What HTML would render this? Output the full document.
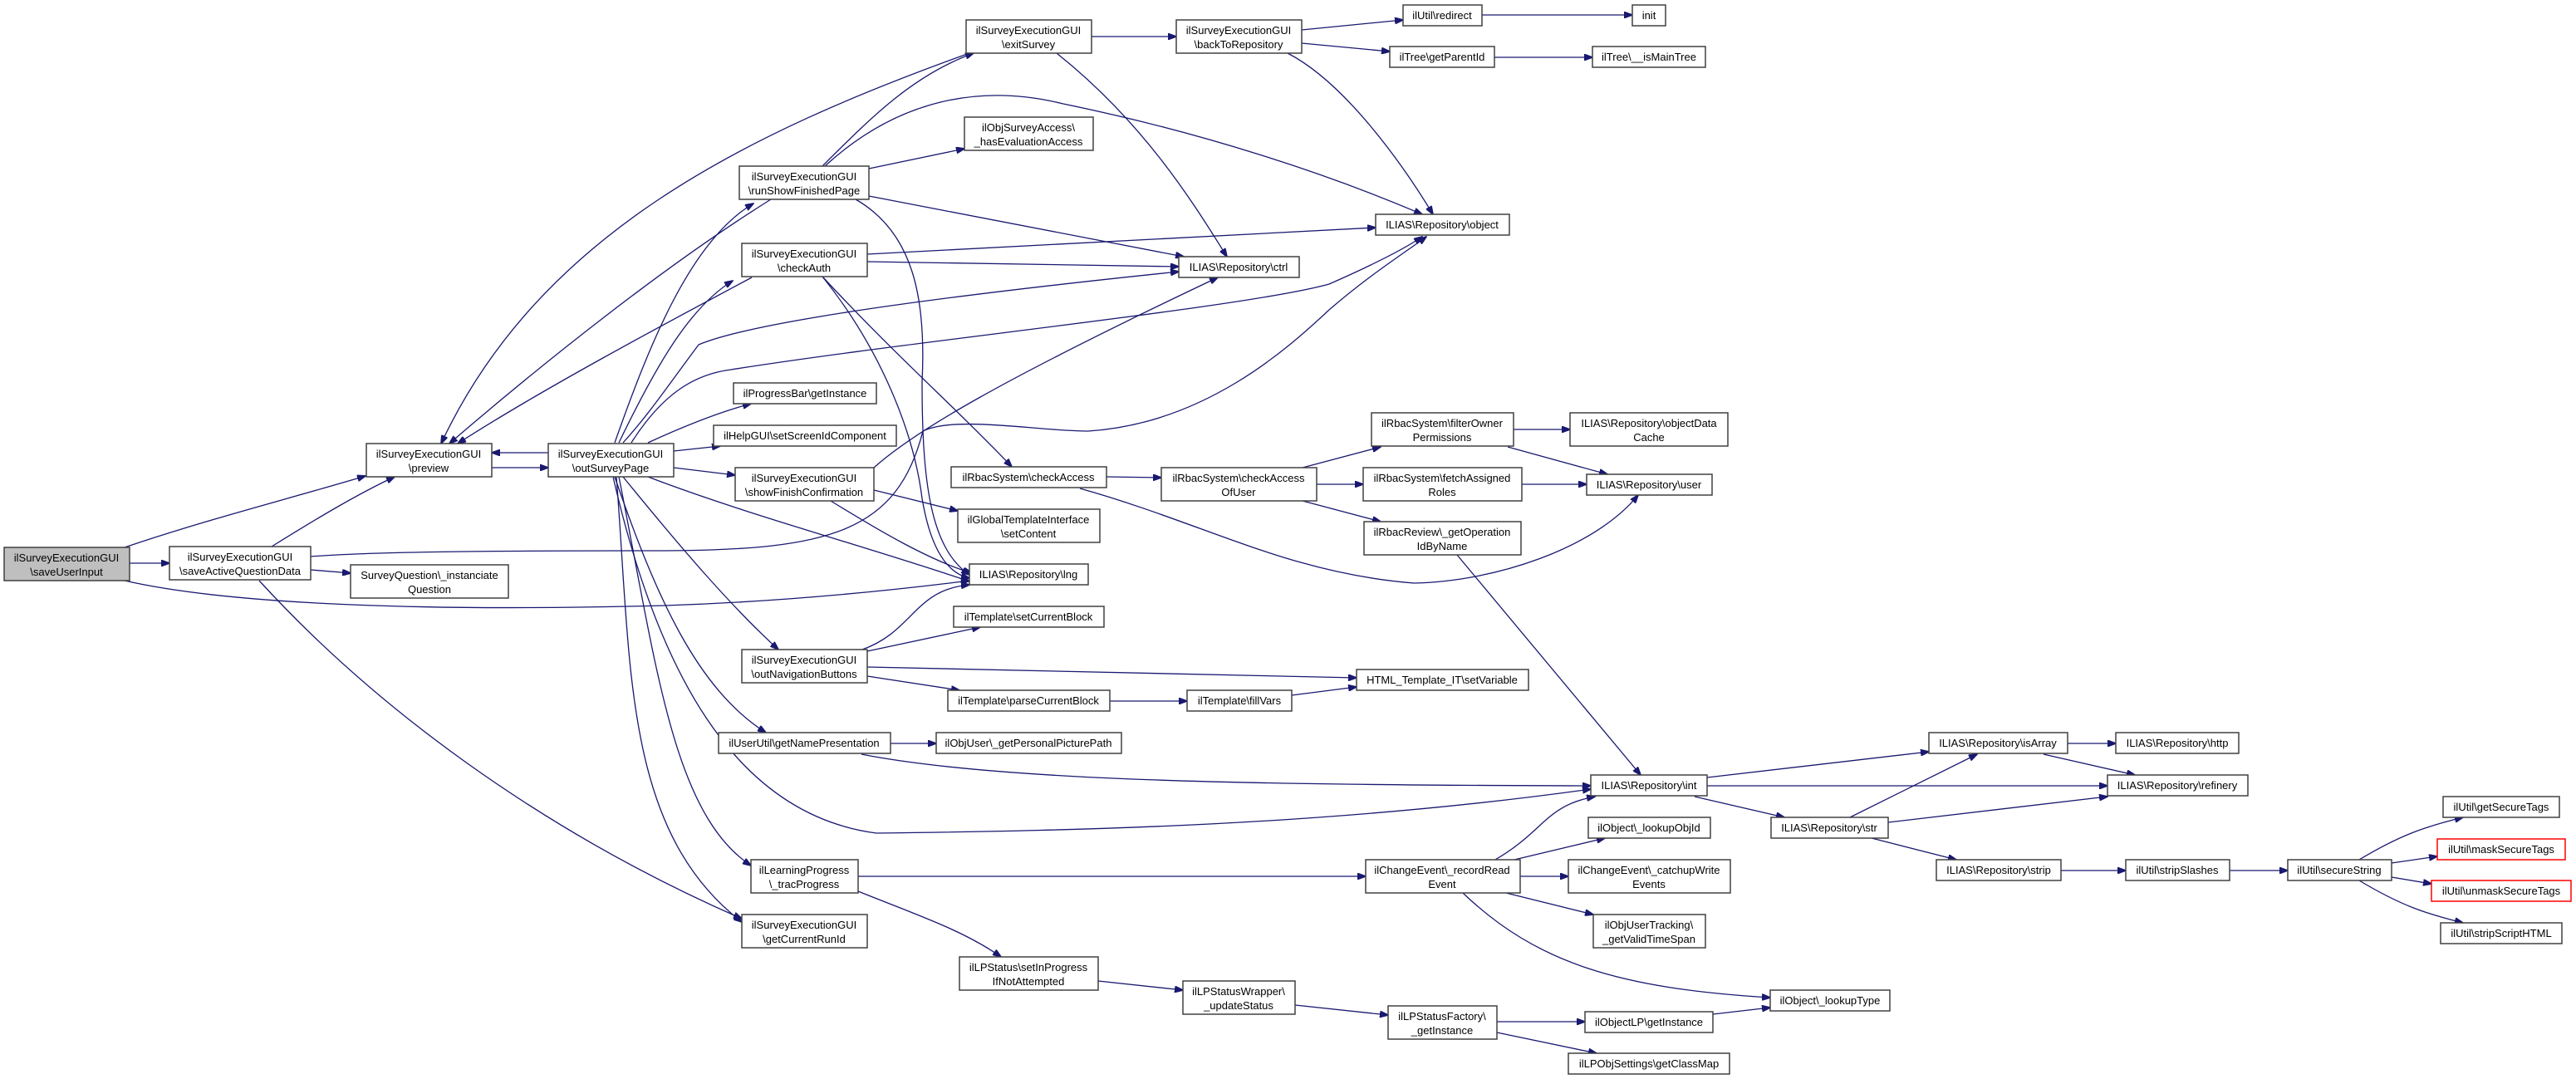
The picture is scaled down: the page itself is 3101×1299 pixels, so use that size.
<!DOCTYPE html>
<html><head><meta charset="utf-8"><style>
html,body{margin:0;padding:0;background:#fff;}
svg{display:block;}
text{font-family:"Liberation Sans",Arial,sans-serif;font-size:13px;fill:#000;text-anchor:middle;}
.n{fill:#fff;stroke:#404040;stroke-width:1.5;}
.r{fill:#fff;stroke:#ff0000;stroke-width:1.5;}
.g{fill:#bfbfbf;stroke:#404040;stroke-width:1.5;}
.e{fill:none;stroke:#191970;stroke-width:1.3;marker-end:url(#a);}
.p{fill:none;stroke:#191970;stroke-width:1.3;}
</style></head><body>
<svg width="3101" height="1299" viewBox="0 0 3101 1299" xmlns="http://www.w3.org/2000/svg">
<defs><marker id="a" markerWidth="11" markerHeight="8" refX="10" refY="4" orient="auto" markerUnits="userSpaceOnUse"><path d="M0,0 L11,4 L0,8 z" fill="#191970" stroke="#191970"/></marker></defs>

<!-- edges -->
<path class="e" d="M150,659 C250,625 350,600 440,573"/>
<path class="e" d="M156,678 L204,678"/>
<path class="e" d="M150,699 C250,722 450,738 800,729 C950,724 1080,710 1167,699"/>
<path class="e" d="M327,658 C380,625 430,595 475,574"/>
<path class="p" d="M374,670 C450,664 600,663 800,663 C1000,662 1080,640 1111,519 C1150,500 1250,519 1310,519 C1450,510 1550,420 1600,373"/>
<path class="e" d="M1600,373 C1650,330 1690,305 1717,285"/>
<path class="e" d="M374,686 L422,690"/>
<path class="e" d="M312,699 C450,850 650,1000 893,1106"/>
<path class="e" d="M592,563 L660,563"/>
<path class="e" d="M660,545 L592,545"/>
<path class="e" d="M1167,64 C900,160 650,280 531,534"/>
<path class="e" d="M928,240 C800,320 650,440 541,534"/>
<path class="e" d="M905,334 C800,390 650,470 551,534"/>
<path class="e" d="M740,533 C780,420 830,290 907,245"/>
<path class="e" d="M745,533 C790,440 830,370 882,338"/>
<path class="e" d="M990,200 C1050,140 1100,90 1172,64"/>
<path class="e" d="M1314,44 L1416,44"/>
<path class="e" d="M1272,64 C1380,150 1440,250 1477,309"/>
<path class="e" d="M1567,36 L1689,24"/>
<path class="e" d="M1567,52 L1673,62"/>
<path class="e" d="M1550,64 C1620,100 1690,200 1725,258"/>
<path class="e" d="M1784,18 L1965,18"/>
<path class="e" d="M1799,69 L1917,69"/>
<path class="e" d="M1046,203 L1161,179"/>
<path class="e" d="M1046,236 L1425,309"/>
<path class="e" d="M1030,240 C1100,280 1115,360 1110,460 C1110,580 1120,660 1167,692"/>
<path class="e" d="M993,200 C1080,120 1180,100 1280,125 C1450,160 1600,210 1712,258"/>
<path class="e" d="M1044,306 L1656,274"/>
<path class="e" d="M1044,315 L1419,321"/>
<path class="e" d="M990,333 C1080,430 1160,500 1218,562"/>
<path class="e" d="M990,333 C1060,420 1100,520 1110,600 C1120,660 1140,690 1167,696"/>
<path class="e" d="M750,533 C780,500 800,470 841,415 C900,390 1100,360 1419,327"/>
<path class="e" d="M760,533 C800,470 840,450 880,445 C1100,410 1500,370 1600,342 C1650,320 1690,300 1712,285"/>
<path class="e" d="M780,533 C830,510 870,495 904,486"/>
<path class="e" d="M811,543 L867,537"/>
<path class="e" d="M811,563 L885,572"/>
<path class="e" d="M780,574 C900,620 1050,660 1167,700"/>
<path class="e" d="M750,574 C820,660 880,730 937,782"/>
<path class="e" d="M740,574 C790,720 840,830 922,882"/>
<path class="e" d="M738,574 C790,800 880,980 1055,1003 C1300,1000 1600,994 1915,950"/>
<path class="e" d="M745,574 C790,800 810,980 904,1042"/>
<path class="e" d="M742,574 C760,800 750,1000 893,1110"/>
<path class="e" d="M1052,563 C1100,520 1200,460 1466,334"/>
<path class="e" d="M1052,590 L1153,615"/>
<path class="e" d="M1000,603 C1060,640 1120,675 1170,690"/>
<path class="e" d="M1332,574 L1398,575"/>
<path class="e" d="M1300,588 C1450,630 1550,690 1702,702 C1800,700 1920,660 1972,596"/>
<path class="e" d="M1568,563 L1662,538"/>
<path class="e" d="M1585,583 L1641,583"/>
<path class="e" d="M1568,603 L1662,628"/>
<path class="e" d="M1822,517 L1890,517"/>
<path class="e" d="M1815,538 L1935,571"/>
<path class="e" d="M1832,583 L1910,583"/>
<path class="e" d="M1754,668 L1975,933"/>
<path class="e" d="M1038,782 C1100,760 1100,710 1167,704"/>
<path class="e" d="M1044,784 L1180,755"/>
<path class="e" d="M1044,803 L1633,816"/>
<path class="e" d="M1044,814 L1155,831"/>
<path class="e" d="M1336,844 L1429,844"/>
<path class="e" d="M1555,837 L1633,827"/>
<path class="e" d="M1072,895 L1127,895"/>
<path class="e" d="M1037,908 C1200,940 1500,945 1915,946"/>
<path class="e" d="M1033,1055 L1644,1055"/>
<path class="e" d="M1033,1073 C1100,1100 1160,1120 1205,1152"/>
<path class="e" d="M1322,1181 L1424,1192"/>
<path class="e" d="M1559,1210 L1671,1222"/>
<path class="e" d="M1800,1035 C1860,1000 1860,970 1920,959"/>
<path class="e" d="M1823,1035 L1932,1009"/>
<path class="e" d="M1830,1055 L1888,1055"/>
<path class="e" d="M1813,1075 L1918,1101"/>
<path class="e" d="M1761,1075 C1850,1160 1950,1190 2131,1201"/>
<path class="e" d="M1802,1230 L1908,1230"/>
<path class="e" d="M1802,1243 L1922,1268"/>
<path class="e" d="M2062,1221 L2131,1213"/>
<path class="e" d="M2055,936 L2322,905"/>
<path class="e" d="M2055,946 L2537,946"/>
<path class="e" d="M2040,959 L2148,984"/>
<path class="e" d="M2227,984 L2380,908"/>
<path class="e" d="M2273,990 L2537,959"/>
<path class="e" d="M2253,1009 L2355,1035"/>
<path class="e" d="M2489,895 L2547,895"/>
<path class="e" d="M2460,908 L2570,933"/>
<path class="e" d="M2481,1048 L2559,1048"/>
<path class="e" d="M2684,1048 L2754,1048"/>
<path class="e" d="M2840,1035 C2890,1005 2920,995 2965,984"/>
<path class="e" d="M2879,1039 L2934,1031"/>
<path class="e" d="M2879,1056 L2927,1064"/>
<path class="e" d="M2840,1060 C2890,1090 2920,1100 2965,1111"/>

<!-- nodes -->
<rect class="g" x="5" y="659" width="151" height="40"/><text x="80" y="676">ilSurveyExecutionGUI</text><text x="80" y="693">\saveUserInput</text>
<rect class="n" x="204" y="658" width="170" height="40"/><text x="289" y="675">ilSurveyExecutionGUI</text><text x="289" y="692">\saveActiveQuestionData</text>
<rect class="n" x="422" y="680" width="190" height="40"/><text x="517" y="697">SurveyQuestion\_instanciate</text><text x="517" y="714">Question</text>
<rect class="n" x="441" y="534" width="151" height="40"/><text x="516" y="551">ilSurveyExecutionGUI</text><text x="516" y="568">\preview</text>
<rect class="n" x="660" y="534" width="151" height="40"/><text x="735" y="551">ilSurveyExecutionGUI</text><text x="735" y="568">\outSurveyPage</text>
<rect class="n" x="1163" y="24" width="151" height="40"/><text x="1238" y="41">ilSurveyExecutionGUI</text><text x="1238" y="58">\exitSurvey</text>
<rect class="n" x="1416" y="24" width="151" height="40"/><text x="1491" y="41">ilSurveyExecutionGUI</text><text x="1491" y="58">\backToRepository</text>
<rect class="n" x="1161" y="141" width="155" height="40"/><text x="1238" y="158">ilObjSurveyAccess\</text><text x="1238" y="175">_hasEvaluationAccess</text>
<rect class="n" x="890" y="200" width="156" height="40"/><text x="968" y="217">ilSurveyExecutionGUI</text><text x="968" y="234">\runShowFinishedPage</text>
<rect class="n" x="893" y="293" width="151" height="40"/><text x="968" y="310">ilSurveyExecutionGUI</text><text x="968" y="327">\checkAuth</text>
<rect class="n" x="1419" y="309" width="145" height="25"/><text x="1491" y="326">ILIAS\Repository\ctrl</text>
<rect class="n" x="883" y="461" width="172" height="25"/><text x="969" y="478">ilProgressBar\getInstance</text>
<rect class="n" x="859" y="512" width="220" height="25"/><text x="969" y="529">ilHelpGUI\setScreenIdComponent</text>
<rect class="n" x="885" y="563" width="167" height="40"/><text x="968" y="580">ilSurveyExecutionGUI</text><text x="968" y="597">\showFinishConfirmation</text>
<rect class="n" x="1145" y="562" width="187" height="25"/><text x="1238" y="579">ilRbacSystem\checkAccess</text>
<rect class="n" x="1398" y="563" width="187" height="40"/><text x="1491" y="580">ilRbacSystem\checkAccess</text><text x="1491" y="597">OfUser</text>
<rect class="n" x="1153" y="613" width="171" height="40"/><text x="1238" y="630">ilGlobalTemplateInterface</text><text x="1238" y="647">\setContent</text>
<rect class="n" x="1167" y="679" width="143" height="25"/><text x="1238" y="696">ILIAS\Repository\lng</text>
<rect class="n" x="1148" y="730" width="181" height="25"/><text x="1238" y="747">ilTemplate\setCurrentBlock</text>
<rect class="n" x="893" y="782" width="151" height="40"/><text x="968" y="799">ilSurveyExecutionGUI</text><text x="968" y="816">\outNavigationButtons</text>
<rect class="n" x="1141" y="831" width="195" height="25"/><text x="1238" y="848">ilTemplate\parseCurrentBlock</text>
<rect class="n" x="1429" y="831" width="126" height="25"/><text x="1492" y="848">ilTemplate\fillVars</text>
<rect class="n" x="865" y="882" width="207" height="25"/><text x="968" y="899">ilUserUtil\getNamePresentation</text>
<rect class="n" x="1127" y="882" width="223" height="25"/><text x="1238" y="899">ilObjUser\_getPersonalPicturePath</text>
<rect class="n" x="904" y="1035" width="129" height="40"/><text x="968" y="1052">ilLearningProgress</text><text x="968" y="1069">\_tracProgress</text>
<rect class="n" x="893" y="1101" width="151" height="40"/><text x="968" y="1118">ilSurveyExecutionGUI</text><text x="968" y="1135">\getCurrentRunId</text>
<rect class="n" x="1155" y="1152" width="167" height="40"/><text x="1238" y="1169">ilLPStatus\setInProgress</text><text x="1238" y="1186">IfNotAttempted</text>
<rect class="n" x="1424" y="1181" width="135" height="40"/><text x="1491" y="1198">ilLPStatusWrapper\</text><text x="1491" y="1215">_updateStatus</text>
<rect class="n" x="1689" y="6" width="95" height="25"/><text x="1736" y="23">ilUtil\redirect</text>
<rect class="n" x="1965" y="6" width="40" height="25"/><text x="1985" y="23">init</text>
<rect class="n" x="1673" y="56" width="126" height="25"/><text x="1736" y="73">ilTree\getParentId</text>
<rect class="n" x="1917" y="56" width="136" height="25"/><text x="1985" y="73">ilTree\__isMainTree</text>
<rect class="n" x="1656" y="258" width="161" height="25"/><text x="1736" y="275">ILIAS\Repository\object</text>
<rect class="n" x="1651" y="497" width="171" height="40"/><text x="1736" y="514">ilRbacSystem\filterOwner</text><text x="1736" y="531">Permissions</text>
<rect class="n" x="1890" y="497" width="190" height="40"/><text x="1985" y="514">ILIAS\Repository\objectData</text><text x="1985" y="531">Cache</text>
<rect class="n" x="1641" y="563" width="191" height="40"/><text x="1736" y="580">ilRbacSystem\fetchAssigned</text><text x="1736" y="597">Roles</text>
<rect class="n" x="1910" y="571" width="151" height="25"/><text x="1985" y="588">ILIAS\Repository\user</text>
<rect class="n" x="1642" y="628" width="189" height="40"/><text x="1736" y="645">ilRbacReview\_getOperation</text><text x="1736" y="662">IdByName</text>
<rect class="n" x="1633" y="806" width="207" height="25"/><text x="1736" y="823">HTML_Template_IT\setVariable</text>
<rect class="n" x="1915" y="933" width="140" height="25"/><text x="1985" y="950">ILIAS\Repository\int</text>
<rect class="n" x="1912" y="984" width="147" height="25"/><text x="1985" y="1001">ilObject\_lookupObjId</text>
<rect class="n" x="2132" y="984" width="141" height="25"/><text x="2202" y="1001">ILIAS\Repository\str</text>
<rect class="n" x="1644" y="1035" width="186" height="40"/><text x="1736" y="1052">ilChangeEvent\_recordRead</text><text x="1736" y="1069">Event</text>
<rect class="n" x="1888" y="1035" width="195" height="40"/><text x="1985" y="1052">ilChangeEvent\_catchupWrite</text><text x="1985" y="1069">Events</text>
<rect class="n" x="1918" y="1101" width="135" height="40"/><text x="1985" y="1118">ilObjUserTracking\</text><text x="1985" y="1135">_getValidTimeSpan</text>
<rect class="n" x="2131" y="1192" width="144" height="25"/><text x="2203" y="1209">ilObject\_lookupType</text>
<rect class="n" x="1671" y="1211" width="131" height="40"/><text x="1736" y="1228">ilLPStatusFactory\</text><text x="1736" y="1245">_getInstance</text>
<rect class="n" x="1908" y="1218" width="154" height="25"/><text x="1985" y="1235">ilObjectLP\getInstance</text>
<rect class="n" x="1888" y="1268" width="194" height="25"/><text x="1985" y="1285">ilLPObjSettings\getClassMap</text>
<rect class="n" x="2322" y="882" width="167" height="25"/><text x="2405" y="899">ILIAS\Repository\isArray</text>
<rect class="n" x="2547" y="882" width="148" height="25"/><text x="2621" y="899">ILIAS\Repository\http</text>
<rect class="n" x="2537" y="933" width="169" height="25"/><text x="2621" y="950">ILIAS\Repository\refinery</text>
<rect class="n" x="2331" y="1035" width="150" height="25"/><text x="2406" y="1052">ILIAS\Repository\strip</text>
<rect class="n" x="2559" y="1035" width="125" height="25"/><text x="2621" y="1052">ilUtil\stripSlashes</text>
<rect class="n" x="2754" y="1035" width="125" height="25"/><text x="2816" y="1052">ilUtil\secureString</text>
<rect class="n" x="2941" y="959" width="140" height="25"/><text x="3011" y="976">ilUtil\getSecureTags</text>
<rect class="r" x="2934" y="1010" width="154" height="25"/><text x="3011" y="1027">ilUtil\maskSecureTags</text>
<rect class="r" x="2927" y="1060" width="168" height="25"/><text x="3011" y="1077">ilUtil\unmaskSecureTags</text>
<rect class="n" x="2938" y="1111" width="146" height="25"/><text x="3011" y="1128">ilUtil\stripScriptHTML</text>
</svg>
</body></html>
